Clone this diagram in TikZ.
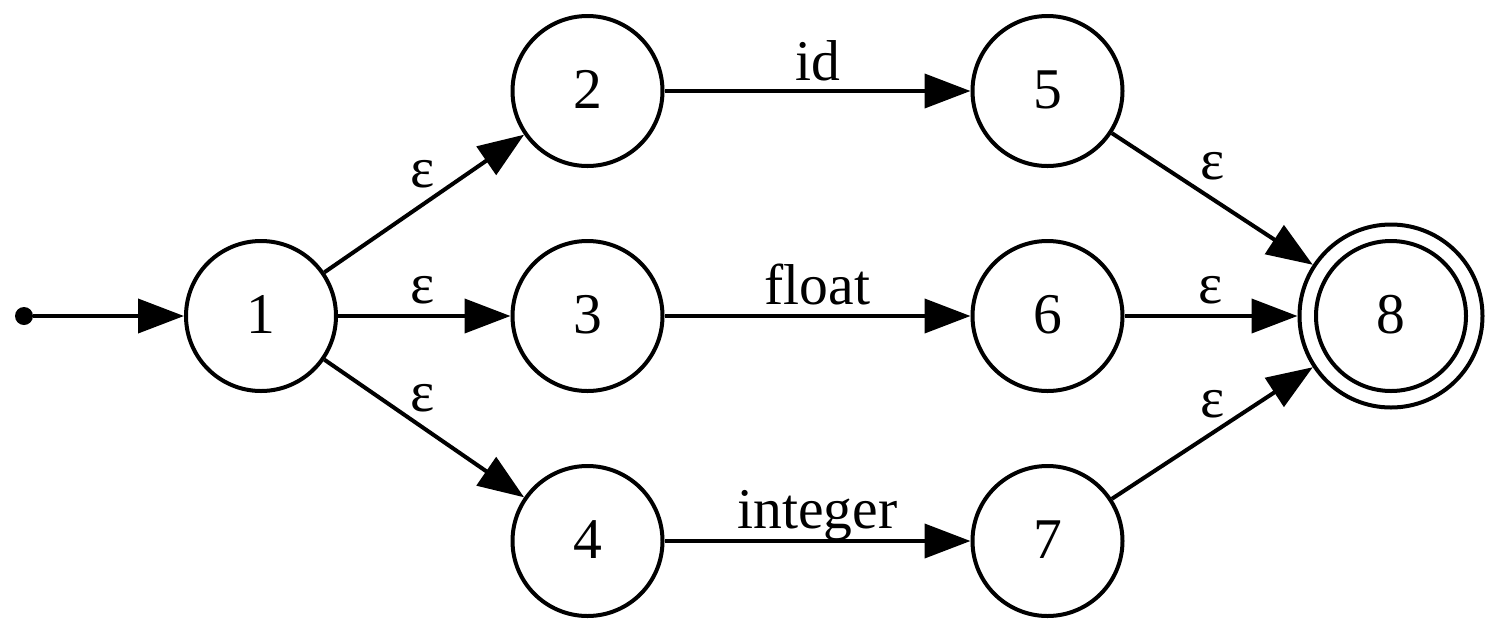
\documentclass[tikz,border=0pt]{standalone}
\usepackage{fontspec}
\setmainfont{Liberation Serif}
\usetikzlibrary{arrows.meta}
\begin{document}
\begin{tikzpicture}[x=1pt,y=1pt,
  every node/.style={font=\fontsize{57.6}{69}\selectfont},
  state/.style={circle,draw,line width=4pt,minimum size=150pt,inner sep=0pt,text height=39pt,text depth=4.4pt},
  conn/.style={line width=4pt,-{Triangle[length=46pt,width=34pt]}},
  lab/.style={anchor=base,inner sep=0pt}]
\useasboundingbox (0,0) rectangle (1500,-633);
\node[circle,fill,minimum size=18pt,inner sep=0pt] (s) at (24,-316) {};
\node[state] (1) at (261,-316) {1};
\node[state] (2) at (587.5,-91) {2};
\node[state] (3) at (587.5,-316) {3};
\node[state] (4) at (587.5,-541) {4};
\node[state] (5) at (1047.5,-91) {5};
\node[state] (6) at (1047.5,-316) {6};
\node[state] (7) at (1047.5,-541) {7};
\node[state,minimum size=183pt,text height=,text depth=] (8) at (1391,-316) {};
\node[state] (8in) at (1391,-316) {8};
\draw[conn] (s) -- (1);
\draw[conn] (1) -- node[lab,pos=0.5,xshift=-2pt,yshift=16.5pt]{ε} (2);
\draw[conn] (1) -- node[lab,pos=0.5,xshift=-2pt,yshift=13pt]{ε} (3);
\draw[conn] (1) -- node[lab,pos=0.5,xshift=-2pt,yshift=17.5pt]{ε} (4);
\draw[conn] (2) -- node[lab,pos=0.5,yshift=11pt]{id} (5);
\draw[conn] (3) -- node[lab,pos=0.5,yshift=12pt]{float} (6);
\draw[conn] (4) -- node[lab,pos=0.5,yshift=13pt]{integer} (7);
\draw[conn] (5) -- node[lab,pos=0.5,yshift=19pt]{ε} (8);
\draw[conn] (6) -- node[lab,pos=0.5,yshift=13pt]{ε} (8);
\draw[conn] (7) -- node[lab,pos=0.5,yshift=16pt]{ε} (8);
\end{tikzpicture}
\end{document}
